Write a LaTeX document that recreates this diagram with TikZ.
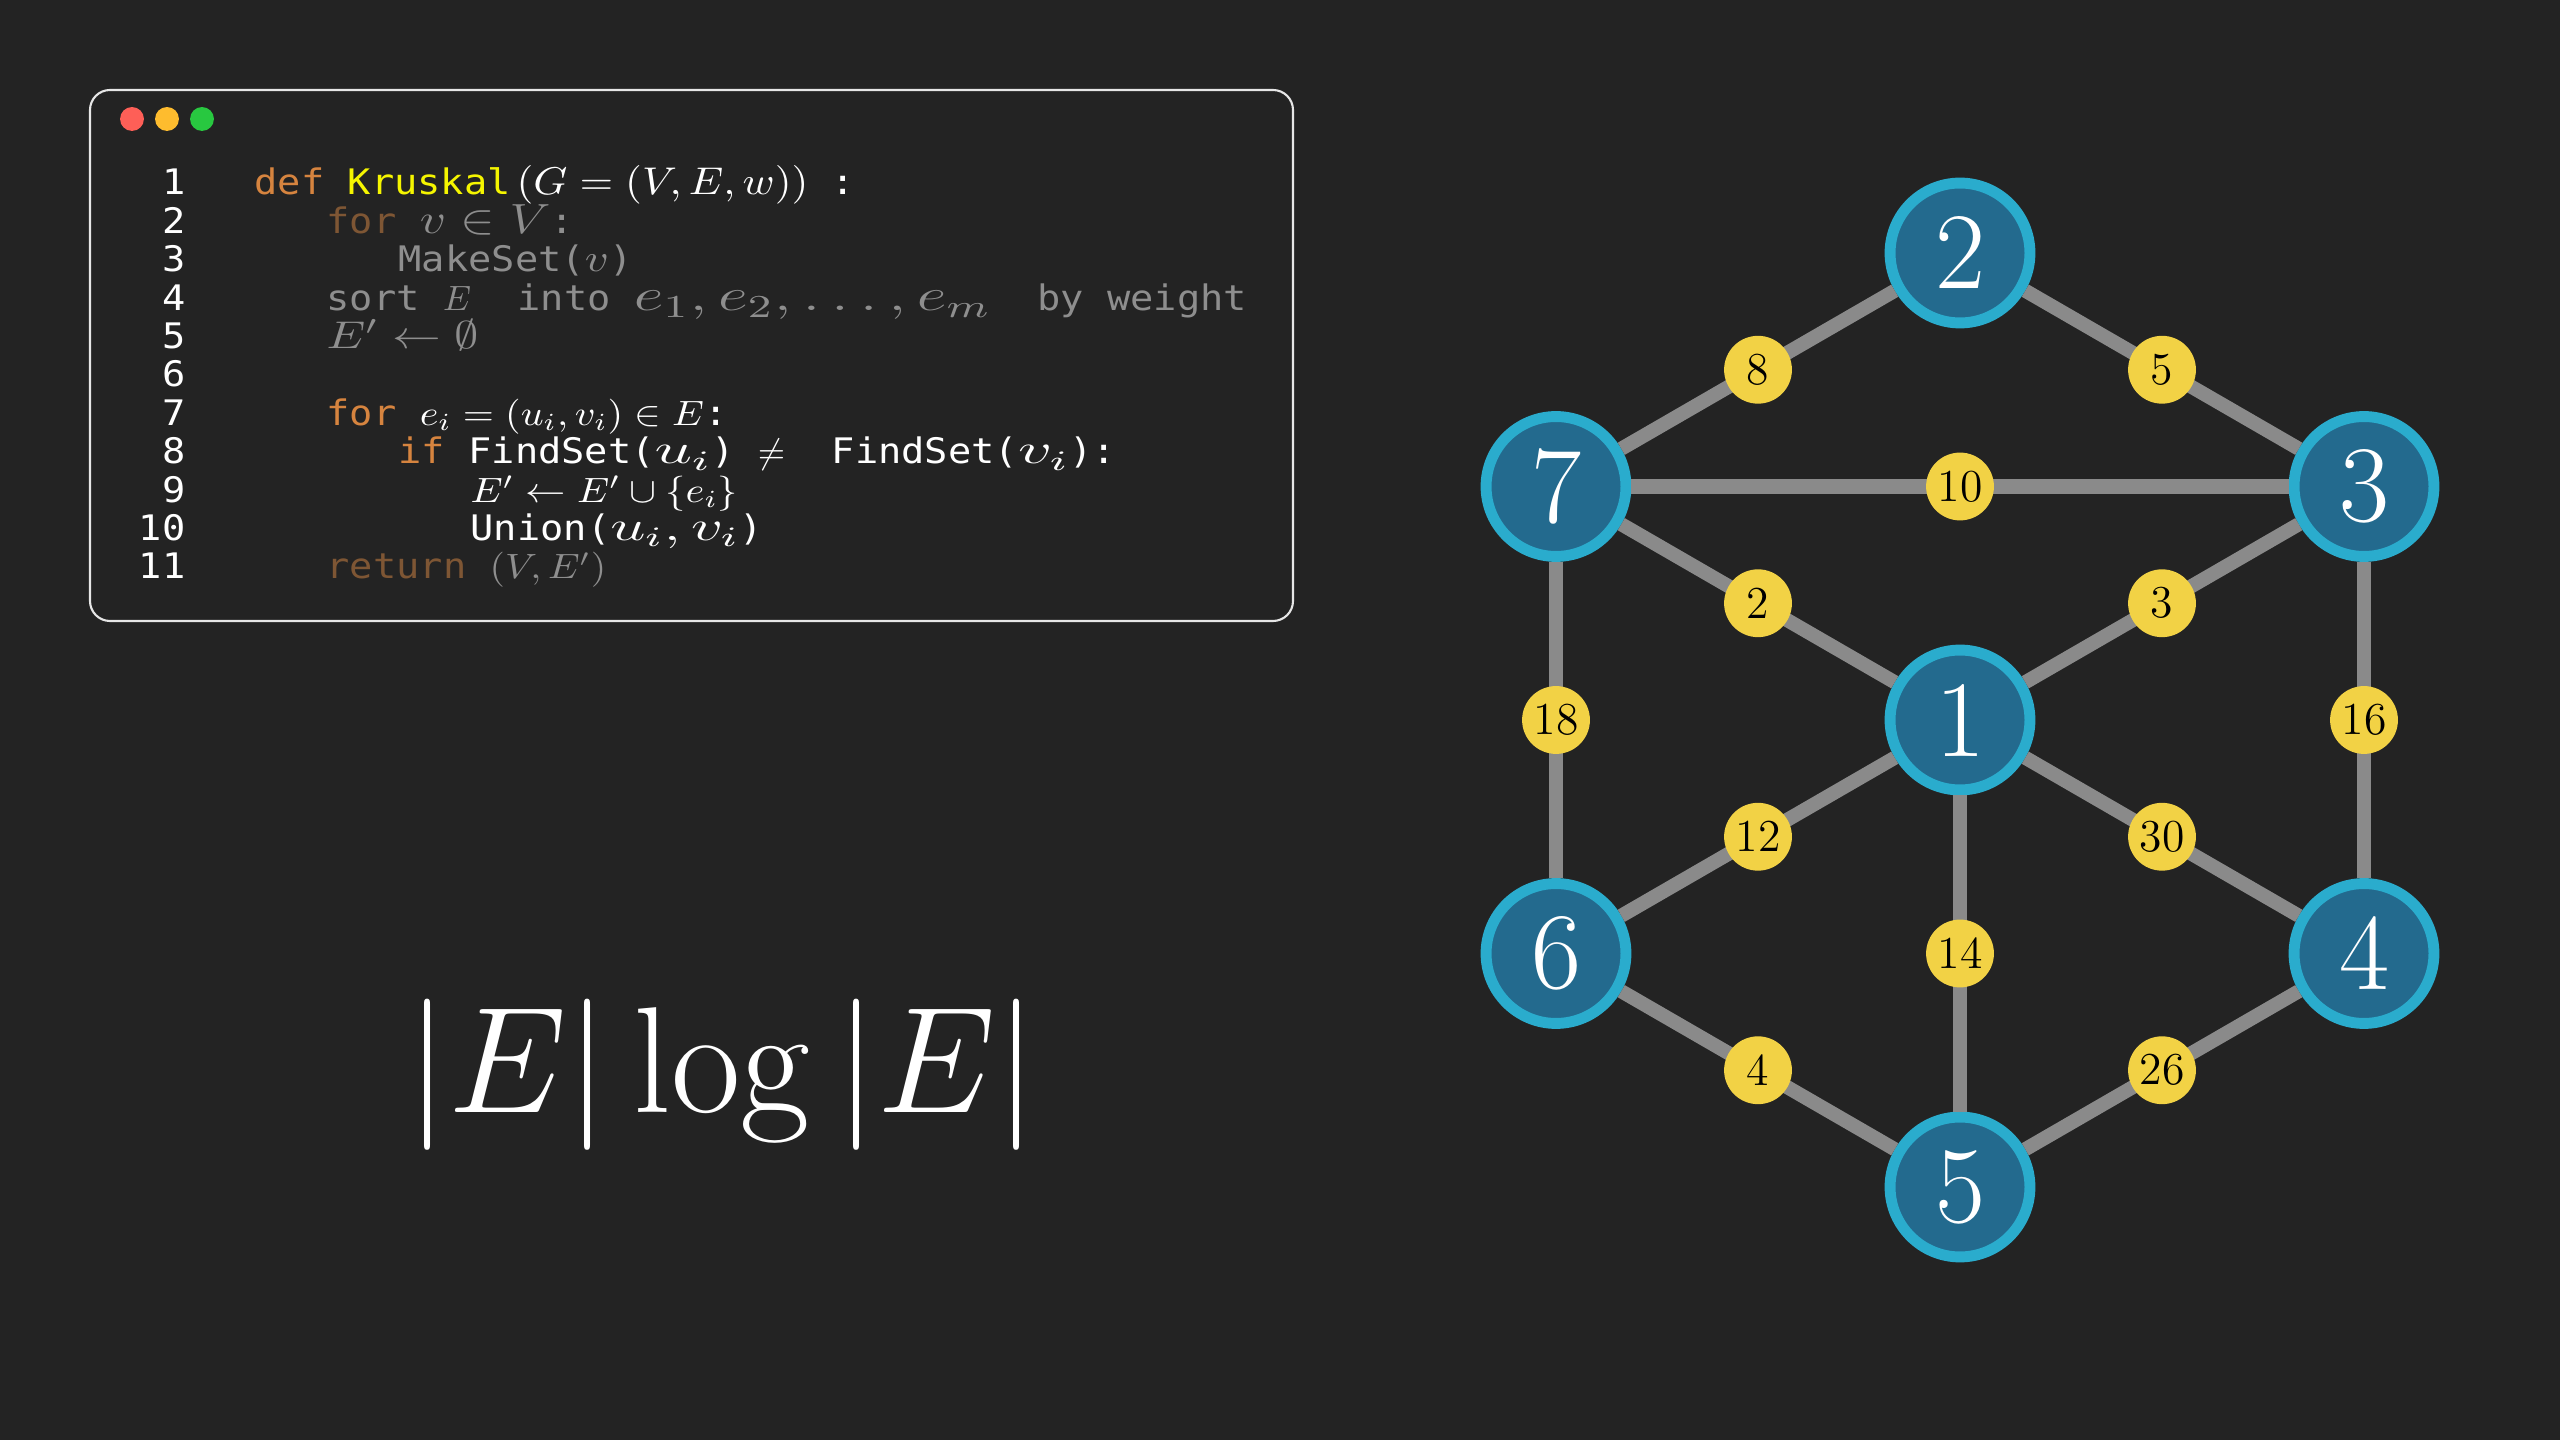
\RequirePackage{fix-cm}
\documentclass[tikz,border=0pt]{standalone}
\usepackage{amsmath,amssymb}
\usepackage{graphicx}
\usepackage{fontspec}
\usepackage{xcolor}
\usepackage{tikz}
\usetikzlibrary{positioning}
\newfontfamily\codefont[FakeStretch=1.1]{DejaVu Sans Mono}
\definecolor{bgc}{HTML}{232323}
\definecolor{framec}{HTML}{E6E6E6}
\definecolor{kwc}{HTML}{D6843F}
\definecolor{kwdim}{HTML}{7E5634}
\definecolor{fnc}{HTML}{F5F500}
\definecolor{dimc}{HTML}{8E8E8E}
\definecolor{vfill}{HTML}{236A8E}
\definecolor{vrim}{HTML}{2AACCD}
\definecolor{edgec}{HTML}{8A8A8A}
\definecolor{wfill}{HTML}{F2D245}
\definecolor{dotr}{HTML}{FE5F57}
\definecolor{doty}{HTML}{FEBC2E}
\definecolor{dotg}{HTML}{28C840}
\newcommand{\kwon}[1]{\textcolor{kwc}{#1}}
\newcommand{\kwoff}[1]{\textcolor{kwdim}{#1}}
\newcommand{\fname}[1]{\textcolor{fnc}{#1}}
% wide math: horizontal stretch, size, formula
\newcommand{\wm}[3]{\scalebox{#1}[1]{\fontsize{#2}{#2}\selectfont$#3$}}
\tikzset{
  vtx/.style={circle, fill=vfill, draw=vrim, line width=3.1pt, minimum size=39.8pt, inner sep=0pt, text=white, font=\fontsize{31}{31}\selectfont},
  wt/.style={circle, fill=wfill, minimum size=19.3pt, inner sep=0pt, text=black, font=\fontsize{13}{13}\selectfont},
  ed/.style={draw=edgec, line width=4pt},
  lnum/.style={anchor=base east, inner sep=0pt, text=white, font=\fontsize{10}{12}\codefont},
  cl/.style={anchor=base west, inner sep=0pt, text=white, font=\fontsize{10}{12}\codefont},
  dot/.style={circle, minimum size=6.8pt, inner sep=0pt}
}
\begin{document}
\begin{tikzpicture}
  \fill[bgc] (0,0) rectangle (25.6,14.4);
  \useasboundingbox (0,0) rectangle (25.6,14.4);

  % Code window
  \draw[framec, line width=0.6pt, rounded corners=0.2cm] (0.90,13.50) rectangle (12.93,8.19);
  \node[dot, fill=dotr] (dr) at (1.32,13.21) {};
  \node[dot, fill=doty] (dy) at (1.67,13.21) {};
  \node[dot, fill=dotg] (dg) at (2.02,13.21) {};

  % Line numbers
  \foreach \i in {1,...,11}
    \node[lnum] (n\i) at (1.86,{12.45-0.384*(\i-1)}) {\i};

  % Code lines
  \node[cl] (c1) at (2.54,12.45) {\kwon{def} \fname{Kruskal}\,\wm{1.12}{11}{(G=(V,E,w))} :};
  \node[cl, text=dimc] (c2) at (3.26,12.066) {\kwoff{for} \wm{1.23}{12}{v\in V}:};
  \node[cl, text=dimc] (c3) at (3.98,11.682) {MakeSet(\wm{1.2}{11}{v})};
  \node[cl, text=dimc] (c4) at (3.26,11.298) {sort $E$~ into \wm{1.43}{13}{e_1,e_2,\ldots,e_m}~ by weight};
  \node[cl, text=dimc] (c5) at (3.26,10.914) {\wm{1.26}{11}{E'\leftarrow\emptyset}};
  \node[cl] (c7) at (3.26,10.146) {\kwon{for} \wm{1.14}{10}{e_i=(u_i,v_i)\in E}:};
  \node[cl] (c8) at (3.98,9.762) {\kwon{if} FindSet(\wm{1.6}{12}{u_i}) $\neq$~ FindSet(\wm{1.6}{12}{v_i}):};
  \node[cl] (c9) at (4.70,9.378) {\wm{1.15}{10}{E'\leftarrow E'\cup\{e_i\}}};
  \node[cl] (c10) at (4.70,8.994) {Union(\wm{1.5}{12}{u_i, v_i})};
  \node[cl, text=dimc] (c11) at (3.26,8.61) {\kwoff{return} \wm{1.13}{10}{(V,E')}};

  % Running time
  \node[anchor=base, inner sep=0pt, text=white, font=\fontsize{43}{50}\selectfont] (cost) at (7.22,3.27) {$|E|\log|E|$};

  % Vertices
  \node[vtx] (v1) at (19.60,7.20) {1};
  \node[vtx] (v2) at (19.60,11.87) {2};
  \node[vtx] (v3) at (23.64,9.535) {3};
  \node[vtx] (v4) at (23.64,4.865) {4};
  \node[vtx] (v5) at (19.60,2.53) {5};
  \node[vtx] (v6) at (15.56,4.865) {6};
  \node[vtx] (v7) at (15.56,9.535) {7};

  % Weighted edges
  \draw[ed] (v7) -- node[wt] {8} (v2);
  \draw[ed] (v2) -- node[wt] {5} (v3);
  \draw[ed] (v7) -- node[wt] {10} (v3);
  \draw[ed] (v7) -- node[wt] {2} (v1);
  \draw[ed] (v3) -- node[wt] {3} (v1);
  \draw[ed] (v7) -- node[wt] {18} (v6);
  \draw[ed] (v3) -- node[wt] {16} (v4);
  \draw[ed] (v1) -- node[wt] {12} (v6);
  \draw[ed] (v1) -- node[wt] {30} (v4);
  \draw[ed] (v1) -- node[wt] {14} (v5);
  \draw[ed] (v6) -- node[wt] {4} (v5);
  \draw[ed] (v4) -- node[wt] {26} (v5);
\end{tikzpicture}
\end{document}
